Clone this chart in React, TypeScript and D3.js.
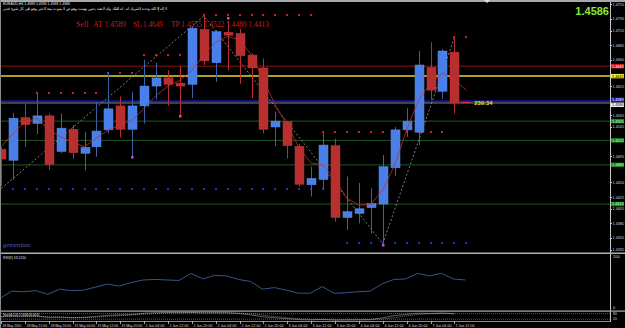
import React from "react";
import * as d3 from "d3";

// ---------- DATA ----------
const timeLabels = [
  "28 May 2010", "28 May 12:00", "28 May 20:00", "31 May 04:00", "31 May 12:00",
  "31 May 20:00", "1 Jun 04:00", "1 Jun 12:00", "1 Jun 20:00", "2 Jun 04:00",
  "2 Jun 12:00", "2 Jun 20:00", "3 Jun 04:00", "3 Jun 12:00", "3 Jun 20:00",
  "4 Jun 04:00", "4 Jun 12:00", "4 Jun 20:00", "7 Jun 04:00", "7 Jun 12:00",
];
const opens = [1.4507,1.4488,1.4561,1.4551,1.4564,1.4503,1.4541,1.4500,1.4511,1.4540,1.4581,1.4541,1.4581,1.4615,1.4629,1.4620,1.4618,1.4712,1.4655,1.4707,1.4705,1.4668,1.4646,1.4545,1.4554,1.4512,1.4446,1.4455,1.4513,1.4390,1.4397,1.4407,1.4413,1.4475,1.4540,1.4536,1.4647,1.4606,1.4673];
const highs = [1.4510,1.4569,1.4585,1.4605,1.4568,1.4568,1.4548,1.4537,1.4588,1.4639,1.4597,1.4605,1.4660,1.4655,1.4642,1.4649,1.4718,1.4735,1.4711,1.4726,1.4713,1.4671,1.4662,1.4571,1.4555,1.4516,1.4477,1.4537,1.4525,1.4460,1.4449,1.4440,1.4497,1.4545,1.4577,1.4675,1.4690,1.4678,1.4698];
const lows = [1.4444,1.4454,1.4511,1.4533,1.4471,1.4500,1.4491,1.4471,1.4494,1.4534,1.4527,1.4494,1.4551,1.4592,1.4581,1.4565,1.4594,1.4651,1.4622,1.4642,1.4619,1.4594,1.4534,1.4512,1.4491,1.4443,1.4426,1.4437,1.4383,1.4369,1.4380,1.4363,1.4345,1.4461,1.4528,1.4514,1.4591,1.4593,1.4568];
const closes = [1.4490,1.4560,1.4549,1.4564,1.4481,1.4543,1.4501,1.4510,1.4538,1.4576,1.4541,1.4581,1.4615,1.4629,1.4618,1.4615,1.4714,1.4658,1.4708,1.4702,1.4667,1.4646,1.4541,1.4555,1.4513,1.4447,1.4457,1.4514,1.4390,1.4400,1.4405,1.4414,1.4477,1.4540,1.4555,1.4651,1.4608,1.4675,1.4586];
const maValues = [1.4511,1.4534,1.4553,1.4560,1.4540,1.4528,1.4519,1.4511,1.4526,1.4540,1.4548,1.4557,1.4577,1.4599,1.4615,1.4625,1.4642,1.4668,1.4690,1.4700,1.4694,1.4668,1.4625,1.4582,1.4548,1.4509,1.4483,1.4480,1.4454,1.4423,1.4411,1.4413,1.4437,1.4480,1.4540,1.4591,1.4620,1.4637,1.4625,1.4608];
const zigzagBars = [-1, 17, 32, 38];
const zigzagPrices = [1.4422, 1.4735, 1.4345, 1.4698];
const upperDotFrom = [3, 9, 12, 17, 27, 38];
const upperDotTo = [8, 11, 15, 26, 37, 39];
const upperDotPrice = [1.4603, 1.4637, 1.4668, 1.4736, 1.4537, 1.4699];
const lowerDotFrom = [1, 29];
const lowerDotTo = [27, 39];
const lowerDotPrice = [1.4438, 1.4346];
const fractalBars = [11, 15, 19, 32];
const fractalPrices = [1.4493, 1.4564, 1.4731, 1.4343];
const levelPrices = [1.4649, 1.4632, 1.4589, 1.4586, 1.4555, 1.4522, 1.4480, 1.4413];
const priceTicks = [1.4755,1.4730,1.4710,1.4685,1.4660,1.4635,1.4615,1.4590,1.4565,1.4545,1.4520,1.4495,1.4475,1.4450,1.4425,1.4405,1.4380,1.4355,1.4335];
const rsiValues = [17,31,30,32,25,35,32,33,39,45,41,48,53,54,53,52,66,55,62,61,54,50,35,38,33,27,27,40,27,28,30,31,45,54,55,66,61,66,55,53];
const stochMain = [45,55,50,52,38,42,35,40,50,62,66,70,85,90,92,90,93,88,90,89,80,65,45,35,25,15,12,18,10,12,14,15,35,60,72,85,82,86,78];
const stochSignal = [48,50,50,52,47,44,38,39,42,51,59,66,74,82,89,91,92,90,90,89,86,78,63,48,35,25,17,15,13,13,12,14,21,37,56,72,80,84,82];

// ---------- STYLE ----------
const W = 625;
const H = 328;
const levelColors = ["#8a1414", "#a8a420", "#16169a", "#808080", "#1d5a1d", "#1d5a1d", "#1d5a1d", "#1d5a1d"];
const levelWidths = [1, 2, 2, 1, 1, 1, 1, 1];
const boxFill = ["#d01c1c", "#ecec22", "#1a1acc", "#f0f0f0", "#1f861f", "#1f861f", "#1f861f", "#1f861f"];
const boxText = ["#ffffff", "#000000", "#ffffff", "#000000", "#c8ffc8", "#c8ffc8", "#c8ffc8", "#c8ffc8"];
const boxShift = [0, 0, -1.6, 1.8, 0, 0, 0, 0];
const SANS = "'Liberation Sans', Arial, sans-serif";
const SERIF = "'Liberation Serif', 'Times New Roman', serif";

export default function App() {
  const x = d3.scaleLinear().domain([0, 39]).range([1, 466.3]);
  const y = d3.scaleLinear().domain([1.4331, 1.4752]).range([252, 6]);
  const rsiY = d3.scaleLinear().domain([0, 100]).range([307, 256]);
  const stY = d3.scaleLinear().domain([0, 100]).range([321, 311.8]);
  const axisX = 610;

  const maLine = d3.line<number>().x((_, i) => x(i)).y((d) => y(d))(maValues) || "";
  const zz = d3.line<number>().x((b) => x(b)).y((_, i) => y(zigzagPrices[i]))(zigzagBars) || "";
  const rsiLine = d3.line<number>().x((_, i) => x(i) - 1).y((d) => rsiY(d))(rsiValues) || "";
  const stMain = d3.line<number>().x((_, i) => x(i)).y((d) => stY(d))(stochMain) || "";
  const stSig = d3.line<number>().x((_, i) => x(i)).y((d) => stY(d))(stochSignal) || "";

  const dots: any[] = [];
  upperDotFrom.forEach((s, k) => {
    for (let i = s; i <= upperDotTo[k]; i++)
      dots.push(<rect key={`u${k}-${i}`} x={Math.round(x(i)) - 1} y={Math.round(y(upperDotPrice[k])) - 1} width={2} height={2} fill="#c42626" />);
  });
  lowerDotFrom.forEach((s, k) => {
    for (let i = s; i <= lowerDotTo[k]; i++)
      dots.push(<rect key={`l${k}-${i}`} x={Math.round(x(i)) - 1} y={Math.round(y(lowerDotPrice[k])) - 1} width={2} height={2} fill="#2630b8" />);
  });

  const visibleTicks = priceTicks.filter((p) => levelPrices.every((l) => Math.abs(y(l) - y(p)) > 4.6));

  return (
    <svg width={W} height={H} style={{ position: "absolute", left: 0, top: 0, background: "#000" }}>
      <defs>
        <clipPath id="main"><rect x={1} y={3} width={axisX - 1} height={249} /></clipPath>
        <clipPath id="rsi"><rect x={1} y={255} width={axisX - 1} height={55} /></clipPath>
      </defs>
      <rect x={0} y={0} width={W} height={H} fill="#000" />
      <rect x={0} y={0} width={W} height={2} fill="#a8a8a8" />
      <path d="M484,0 L490,0 L487,3 Z" fill="#e0e0e0" />
      <rect x={0} y={0} width={1} height={H} fill="#8a8a8a" />
      <line x1={axisX + 0.5} y1={2} x2={axisX + 0.5} y2={322} stroke="#c8c8c8" strokeWidth={1} />

      <g clipPath="url(#main)">
        {levelPrices.map((p, k) => (
          <line key={`lv${k}`} x1={1} x2={axisX} y1={y(p)} y2={y(p)} stroke={levelColors[k]} strokeWidth={levelWidths[k]} />
        ))}
        <path d={zz} fill="none" stroke="#9a9a9a" strokeWidth={0.8} strokeDasharray="2,2" />
        {dots}
        {opens.map((o, i) => {
          const c = closes[i];
          const bull = c >= o;
          const cx = Math.round(x(i)) + 0.5;
          const top = y(Math.max(o, c));
          const bot = y(Math.min(o, c));
          return (
            <g key={`c${i}`}>
              <line x1={cx} x2={cx} y1={y(highs[i])} y2={y(lows[i])} stroke={bull ? "#3a63a4" : "#b83030"} strokeWidth={1} />
              <rect x={cx - 4.5} y={top} width={9} height={Math.max(1, bot - top)} fill={bull ? "#4a7fe8" : "#b82f2f"} stroke={bull ? "#5a8cf0" : "#c03434"} strokeWidth={0.5} />
            </g>
          );
        })}
        <path d={maLine} fill="none" stroke="#c42e2e" strokeWidth={0.8} />
        {fractalBars.map((b, k) => (
          <rect key={`f${k}`} x={Math.round(x(b)) - 1} y={Math.round(y(fractalPrices[k])) - 1} width={2.5} height={2.5} fill="#d04ad0" />
        ))}
        <rect x={x(38) + 7} y={y(1.4588)} width={9} height={1.2} fill="#e03030" />
        <text x={x(38) + 20} y={y(1.4586) + 2} fontFamily={SANS} fontSize={5.5} fontWeight="bold" fill="#e8e020" textLength={18} lengthAdjust="spacingAndGlyphs">239:34</text>
        <text x={3} y={247} fontFamily={SERIF} fontStyle="italic" fontSize={6.5} fill="#4c5ee0" textLength={27} lengthAdjust="spacingAndGlyphs">greenius</text>
      </g>

      <text x={3} y={5.2} fontFamily={SANS} fontSize={4.2} fill="#e8e8e8" textLength={67} lengthAdjust="spacingAndGlyphs">EURAUD,H4  1.4589 1.4590 1.4583 1.4586</text>
      <text x={3} y={9.6} fontFamily={SANS} fontSize={4} fill="#e8e8e8" textLength={164} lengthAdjust="spacingAndGlyphs">لا إله إلا الله وحده لا شريك له ، له الملك وله الحمد يحيي ويميت وهو حي لا يموت بيده الخير وهو على كل شيء قدير</text>
      <g fontFamily={SERIF} fontSize={8.6} fill="#c41e1e">
        <text x={76} y={27} textLength={12.5} lengthAdjust="spacingAndGlyphs">Sell</text>
        <text x={93} y={27} textLength={33} lengthAdjust="spacingAndGlyphs">AT 1.4589</text>
        <text x={133} y={27} textLength={30} lengthAdjust="spacingAndGlyphs">SL 1.4649</text>
        <text x={171} y={27} textLength={98} lengthAdjust="spacingAndGlyphs">TP 1.4555 1.4522 1.4480 1.4413</text>
      </g>
      <text x={609} y={15} fontFamily={SANS} fontSize={11} fontWeight="bold" fill="#8ce63c" textAnchor="end">1.4586</text>

      {visibleTicks.map((p, k) => (
        <g key={`pt${k}`}>
          <line x1={axisX} x2={axisX + 2} y1={Math.round(y(p)) + 0.5} y2={Math.round(y(p)) + 0.5} stroke="#c8c8c8" />
          <text x={612.5} y={y(p) + 1.5} fontFamily={SANS} fontSize={4} fill="#d8d8d8" textLength={11.5} lengthAdjust="spacingAndGlyphs">{p.toFixed(4)}</text>
        </g>
      ))}
      {levelPrices.map((p, k) => (
        <g key={`bx${k}`}>
          <rect x={axisX + 1} y={y(p) + boxShift[k] - 2.2} width={13} height={4.4} fill={boxFill[k]} />
          <text x={612} y={y(p) + boxShift[k] + 1.4} fontFamily={SANS} fontSize={3.8} fill={boxText[k]} textLength={11.5} lengthAdjust="spacingAndGlyphs">{p.toFixed(4)}</text>
        </g>
      ))}

      <rect x={1} y={252.5} width={W} height={1.5} fill="#b0b0b0" />
      <text x={3} y={259} fontFamily={SANS} fontSize={4} fill="#e0e0e0" textLength={23} lengthAdjust="spacingAndGlyphs">RSI(9) 53.2110</text>
      <g clipPath="url(#rsi)">
        <path d={rsiLine} fill="none" stroke="#34558e" strokeWidth={1} />
      </g>
      <text x={613} y={rsiY(100) + 1.5} fontFamily={SANS} fontSize={4} fill="#d8d8d8">100</text>
      <text x={613} y={rsiY(0) + 1.5} fontFamily={SANS} fontSize={4} fill="#d8d8d8">0</text>

      <rect x={1} y={310.5} width={W} height={1.2} fill="#b0b0b0" />
      <line x1={1} x2={axisX} y1={stY(80)} y2={stY(80)} stroke="#9a9a9a" strokeWidth={0.6} strokeDasharray="1,1" />
      <line x1={1} x2={axisX} y1={stY(20)} y2={stY(20)} stroke="#9a9a9a" strokeWidth={0.6} strokeDasharray="1,1" />
      <path d={stSig} fill="none" stroke="#bdbdbd" strokeWidth={0.6} strokeDasharray="1,1" />
      <path d={stMain} fill="none" stroke="#9a9a9a" strokeWidth={0.6} />
      <text x={3} y={315.6} fontFamily={SANS} fontSize={3.6} fill="#e0e0e0" textLength={36} lengthAdjust="spacingAndGlyphs">Stoch(8,3,3) 77.6480 82.0574</text>
      <text x={613} y={stY(80) + 1.3} fontFamily={SANS} fontSize={3.4} fill="#d8d8d8">80</text>
      <text x={613} y={stY(20) + 1.3} fontFamily={SANS} fontSize={3.4} fill="#d8d8d8">20</text>
      <rect x={1} y={321} width={axisX} height={0.8} fill="#b0b0b0" />

      {timeLabels.map((t, k) => {
        const bx = Math.round(x(k * 2)) + 0.5;
        return (
          <g key={`tl${k}`}>
            <line x1={bx} x2={bx} y1={321} y2={324} stroke="#c8c8c8" strokeWidth={0.8} />
            <text x={bx + 1} y={326.6} fontFamily={SANS} fontSize={3.6} fill="#d8d8d8" textLength={t.length * 1.72} lengthAdjust="spacingAndGlyphs">{t}</text>
          </g>
        );
      })}
    </svg>
  );
}
